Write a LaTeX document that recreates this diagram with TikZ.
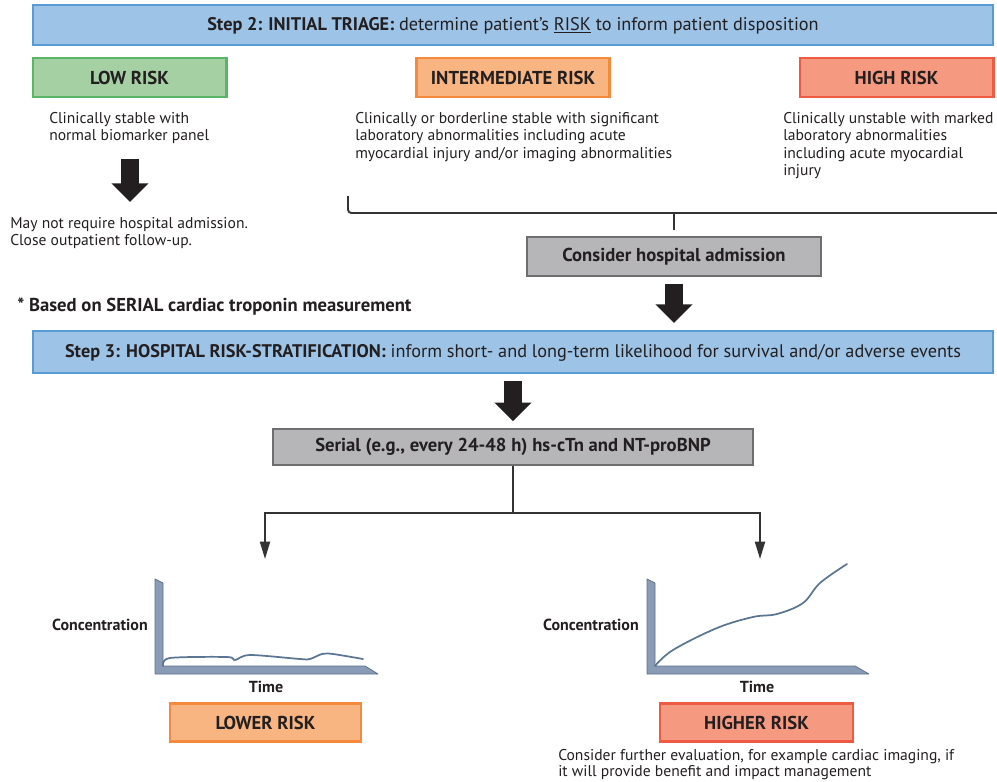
\documentclass[tikz,border=0pt]{standalone}
\usepackage{fontspec}
\setmainfont{PT Sans}
\usetikzlibrary{arrows.meta}
\definecolor{txt}{HTML}{231F20}
\definecolor{stepfill}{HTML}{9DC3E6}
\definecolor{stepborder}{HTML}{5B9BD5}
\definecolor{lowfill}{HTML}{A4D0A4}
\definecolor{lowborder}{HTML}{5BB566}
\definecolor{midfill}{HTML}{F9B581}
\definecolor{midborder}{HTML}{F68A3C}
\definecolor{highfill}{HTML}{F59A80}
\definecolor{highborder}{HTML}{EE5A42}
\definecolor{grayfill}{HTML}{B6B6B8}
\definecolor{grayborder}{HTML}{6E6E70}
\definecolor{axisfill}{HTML}{8A9CB5}
\definecolor{axisborder}{HTML}{5E7089}
\definecolor{curvecol}{HTML}{5B7594}
\definecolor{linecol}{HTML}{333333}
\newcommand{\bodyfs}{\fontsize{11.7pt}{13.1pt}\selectfont}
\newcommand{\tightfs}{\fontsize{11.7pt}{12pt}\selectfont}
\newcommand{\titlefs}{\fontsize{14pt}{16pt}\selectfont}
\newcommand{\stepfs}{\fontsize{13.7pt}{16pt}\selectfont}
\newcommand{\axfs}{\fontsize{12pt}{14pt}\selectfont}
\tikzset{
  stepbox/.style={draw=stepborder, fill=stepfill, line width=1.5pt, minimum width=720pt, inner sep=0pt, text=txt, font=\stepfs, text height=9.6pt, text depth=1.5pt},
  riskbox/.style={line width=2pt, minimum width=145pt, minimum height=29.25pt, inner sep=0pt, text=txt, font=\titlefs\bfseries},
  lowbox/.style={riskbox, draw=lowborder, fill=lowfill},
  midbox/.style={riskbox, draw=midborder, fill=midfill},
  highbox/.style={riskbox, draw=highborder, fill=highfill},
  graybox/.style={draw=grayborder, fill=grayfill, line width=1.2pt, minimum height=29pt, inner sep=0pt, text=txt, font=\titlefs\bfseries},
  bodytext/.style={anchor=north west, align=left, inner sep=0pt, text=txt, font=\bodyfs},
  bigarrow/.style={draw=txt, line width=13pt, -{Triangle[width=27pt,length=14pt]}},
  conn/.style={draw=linecol, line width=1.4pt},
  thinarrow/.style={conn, -{Triangle[width=7.5pt,length=13pt]}},
  axisbar/.style={fill=axisfill, draw=axisborder, line width=0.6pt, line join=round},
  curve/.style={draw=curvecol, line width=1.3pt, line cap=round, line join=round},
  axlabel/.style={inner sep=0pt, text=txt, font=\axfs\bfseries}
}
\begin{document}
\begin{tikzpicture}[x=0.75pt,y=-0.75pt]
\useasboundingbox (0,0) rectangle (997,782);

% Step 2
\node[stepbox, minimum height=30pt] (step2) at (513,25)
  {\textbf{Step 2: INITIAL TRIAGE:} determine patient's \underline{RISK} to inform patient disposition};

% risk boxes
\node[lowbox] (low) at (129.5,77.5) {LOW RISK};
\node[midbox] (mid) at (513,77.5) {INTERMEDIATE RISK};
\node[highbox] (high) at (896.5,77.5) {HIGH RISK};

\node[bodytext] (lowtxt) at (49,112) {Clinically stable with\\normal biomarker panel};
\node[bodytext] (midtxt) at (355,112) {Clinically or borderline stable with significant\\laboratory abnormalities including acute\\myocardial injury and/or imaging abnormalities};
\node[bodytext] (hightxt) at (783,112) {Clinically unstable with marked\\laboratory abnormalities\\including acute myocardial\\injury};

% low risk arrow
\coordinate (a1s) at (130,159);
\coordinate (a1e) at (130,202);
\draw[bigarrow] (a1s) -- (a1e);
\node[bodytext] (maytxt) at (10,217) {May not require hospital admission.\\Close outpatient follow-up.};

% bracket
\coordinate (brl) at (348,196);
\coordinate (brr) at (999,213);
\draw[conn, rounded corners=2.5pt] (brl) |- (brr);

\node[graybox, minimum width=220.5pt] (consider) at (674,256.5) {Consider hospital admission};
\draw[conn] (consider.north |- brr) -- ([yshift=5pt]consider.north);

% Step 3
\node[anchor=west, inner sep=0pt, text=txt, font=\titlefs\bfseries] (note) at (17,307) {* Based on SERIAL cardiac troponin measurement};
\node[stepbox, minimum height=31.5pt] (step3) at (513,352)
  {\textbf{Step 3: HOSPITAL RISK-STRATIFICATION:} inform short- and long-term likelihood for survival and/or adverse events};
\draw[bigarrow, shorten <=5.25pt, shorten >=5.25pt] (consider.south) -- (consider.south |- step3.north);

\node[graybox, minimum width=360pt, minimum height=27pt] (serial) at (513,447) {Serial (e.g., every 24-48 h) hs-cTn and NT-proBNP};
\draw[bigarrow, shorten <=5.25pt, shorten >=5.25pt] (step3.south -| serial.north) -- (serial.north);

% branches
\coordinate (br) at (513,513);
\coordinate (ltip) at (265,559);
\coordinate (rtip) at (760,559);
\draw[conn] (serial.south) -- (br);
\draw[thinarrow] (br) -| (ltip);
\draw[thinarrow] (br) -| (rtip);

% left chart
\draw[axisbar] (155,579) -- (163,583) -- (163,666) -- (365,666) -- (378,674) -- (155,674) -- cycle;
\draw[curve] plot[smooth, tension=0.5] coordinates {(163,666) (170,658) (227,657) (235,660) (250,655) (300,659) (310,659) (322,654) (333,654) (363,659)};
\node[axlabel, anchor=east] (lconc) at (148,625) {Concentration};
\node[axlabel] (ltime) at (266,687) {Time};
\node[midbox, minimum width=143.25pt, minimum height=28.5pt] (lower) at (265.5,722.5) {LOWER RISK};

% right chart
\draw[axisbar] (647,579) -- (655,583) -- (655,666) -- (855,666) -- (869,674) -- (647,674) -- cycle;
\draw[curve] plot[smooth, tension=0.6] coordinates {(655,666) (673,650) (717,628) (753,617) (777,614) (803,603) (820,583) (847,564)};
\node[axlabel, anchor=east] (rconc) at (639,625) {Concentration};
\node[axlabel] (rtime) at (757,687) {Time};
\node[highbox, minimum width=144.75pt, minimum height=28.5pt] (higher) at (756.5,722.5) {HIGHER RISK};
\node[bodytext, font=\tightfs] (furthertxt) at (558,749) {Consider further evaluation, for example cardiac imaging, if\\it will provide benefit and impact management};
\end{tikzpicture}
\end{document}
